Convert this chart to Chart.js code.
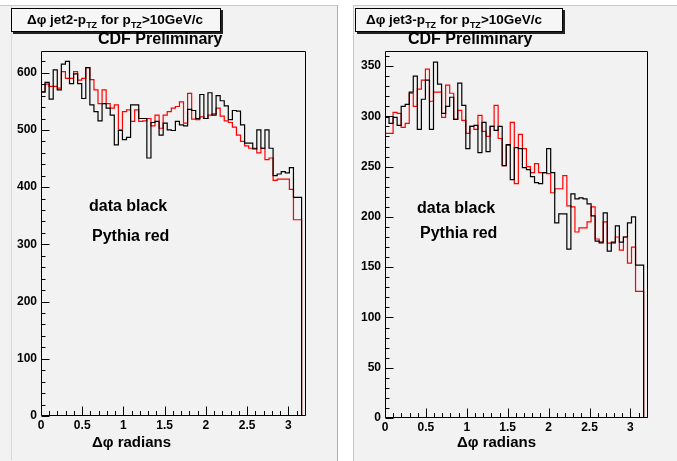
<!DOCTYPE html>
<html><head><meta charset="utf-8">
<script src="https://cdn.jsdelivr.net/npm/chart.js@4.4.1/dist/chart.umd.min.js"></script>
<style>
html,body{margin:0;padding:0;}
body{width:677px;height:461px;background:#fff;position:relative;overflow:hidden;font-family:"Liberation Sans",Arial,Helvetica,sans-serif;}
.pad{position:absolute;background:#f2f2f2;}
#padL{left:0;top:5;width:337px;height:455px;top:5px;border-top:1px solid #c8c8c8;border-right:1px solid #b0b0b0;border-bottom:1px solid #909090;}
#padR{left:353px;top:5px;width:324px;height:455px;border-top:1px solid #c8c8c8;border-left:1px solid #c8c8c8;border-bottom:1px solid #909090;}
#lineL{position:absolute;left:11px;top:6px;width:1px;height:454px;background:#d8d8d8;}
canvas{position:absolute;top:0;}
.txt{position:absolute;white-space:nowrap;font-weight:bold;color:#000;}
.tbox{position:absolute;background:#f6f6f6;border:1px solid #000;box-shadow:2px 2px 0 #222;font-weight:bold;font-size:13.5px;line-height:22px;white-space:nowrap;box-sizing:border-box;}
.tbox sub{font-size:9px;vertical-align:-4px;line-height:0;}
</style></head>
<body>
<div class="pad" id="padL"></div>
<div class="pad" id="padR"></div>
<div id="lineL"></div>
<canvas id="cL" width="338" height="461" style="left:0"></canvas>
<canvas id="cR" width="337" height="461" style="left:340px"></canvas>

<div class="tbox" style="left:11px;top:8px;width:210px;height:24px;padding-left:15px;">&Delta;&phi; jet2-p<sub>TZ</sub> for p<sub>TZ</sub>&gt;10GeV/c</div>
<div class="tbox" style="left:355px;top:8px;width:208px;height:24px;padding-left:10px;">&Delta;&phi; jet3-p<sub>TZ</sub> for p<sub>TZ</sub>&gt;10GeV/c</div>
<div class="txt" style="left:98px;top:31px;font-size:16px;line-height:16px;">CDF Preliminary</div>
<div class="txt" style="left:408px;top:31px;font-size:16px;line-height:16px;">CDF Preliminary</div>
<div class="txt" style="left:89px;top:198px;font-size:16px;line-height:16px;">data black</div>
<div class="txt" style="left:92px;top:228px;font-size:16px;line-height:16px;">Pythia red</div>
<div class="txt" style="left:417px;top:200px;font-size:16px;line-height:16px;">data black</div>
<div class="txt" style="left:420px;top:225px;font-size:16px;line-height:16px;">Pythia red</div>
<div class="txt" style="left:92px;top:434px;font-size:15px;line-height:15px;">&Delta;&phi; radians</div>
<div class="txt" style="left:457px;top:434px;font-size:15px;line-height:15px;">&Delta;&phi; radians</div>

<script>
// ---- categories: 64 bins in delta-phi (radians) ----
const nBins = 64;
const binWidth = 0.0494;
const binLeftEdges = Array.from({length: nBins}, (_, i) => i * binWidth);

// ---- x tick labels ----
const xTickLabels = ["0", "0.5", "1", "1.5", "2", "2.5", "3"];

// ---- jet2 panel (left) ----
const jet2Data = [570,566,583,554,605,570,615,620,581,598,581,555,609,544,532,516,546,538,526,474,
  499,483,487,544,544,520,520,451,513,515,491,512,500,499,515,509,507,536,534,520,
  562,520,565,526,560,551,542,518,534,533,509,477,477,467,500,468,500,468,420,423,
  427,425,434,382];
const jet2Pythia = [573,567,580,576,576,573,602,590,590,602,587,590,609,588,570,546,570,546,538,544,
  500,532,535,515,535,515,516,520,507,526,503,526,532,538,541,549,512,564,519,518,
  523,520,526,528,538,524,516,513,505,491,480,472,468,468,460,468,448,451,412,414,
  414,414,396,343];
const jet2YTicks = [0,100,200,300,400,500,600];

// ---- jet3 panel (right) ----
const jet3Data = [275,299,293,299,291,310,312,324,340,287,317,336,287,354,332,303,310,319,297,333,
  311,268,290,291,264,294,265,290,286,290,251,272,237,269,268,249,247,240,234,233,
  244,268,244,194,203,203,168,223,218,219,218,213,201,176,175,204,166,175,191,175,
  180,194,200,152];
const jet3Pythia = [280,283,283,304,303,289,293,323,310,327,336,347,315,324,324,299,331,323,297,306,
  296,283,290,287,301,285,280,290,311,278,251,271,294,233,282,268,250,244,253,244,
  244,243,224,228,228,241,211,210,185,189,189,195,210,178,174,195,174,174,180,167,
  180,154,170,126];
const jet3YTicks = [0,50,100,150,200,250,300,350];

function histPoints(vals) {
  const pts = vals.map((v, i) => ({x: binLeftEdges[i], y: v}));
  const end = nBins * binWidth;
  pts.push({x: end, y: vals[vals.length - 1]});
  pts.push({x: end, y: 0});
  return pts;
}

const rootAxes = {
  id: 'rootAxes',
  afterDatasetsDraw(chart, args, o) {
    const {ctx, chartArea: a, scales: {x, y}} = chart;
    ctx.save();
    ctx.strokeStyle = '#000';
    ctx.lineWidth = 1;
    const L = Math.round(a.left) + 0.5, R = Math.round(a.right) - 0.5;
    const T = Math.round(a.top) + 0.5, B = Math.round(a.bottom) - 0.5;
    ctx.beginPath();
    ctx.rect(L, T, R - L, B - T);
    ctx.stroke();
    ctx.beginPath();
    for (let i = 0; i <= 32; i++) {
      const v = i / 10;
      const px = Math.round(x.getPixelForValue(v)) + 0.5;
      if (px > R) break;
      const len = (i % 5 === 0) ? 9 : 4.5;
      ctx.moveTo(px, B); ctx.lineTo(px, B - len);
    }
    for (let v = 0; v <= o.yTop; v += o.yMinor) {
      const py = Math.round(y.getPixelForValue(v)) + 0.5;
      const major = Math.abs(v / o.yMajor - Math.round(v / o.yMajor)) < 1e-6;
      const len = major ? 8 : 4;
      ctx.moveTo(L, py); ctx.lineTo(L + len, py);
    }
    ctx.stroke();
    ctx.restore();
  }
};

function makeChart(id, cw, ch, area, dataVals, mcVals, yMax, yTicks, yMinor) {
  const yMajor = yTicks[1] - yTicks[0];
  return new Chart(document.getElementById(id), {
    type: 'line',
    data: {
      datasets: [
        {label: 'data', data: histPoints(dataVals), stepped: 'after', borderColor: '#000000',
         borderWidth: 1.2, pointRadius: 0, fill: false, order: 0},
        {label: 'Pythia', data: histPoints(mcVals), stepped: 'after', borderColor: '#ff0000',
         borderWidth: 1.2, pointRadius: 0, fill: false, order: 1}
      ]
    },
    options: {
      responsive: false, animation: false, events: [],
      devicePixelRatio: 1,
      layout: {padding: {left: 0, right: cw - area.right, top: area.top, bottom: 0}},
      plugins: {legend: {display: false}, tooltip: {enabled: false},
        rootAxes: {yMinor: yMinor, yMajor: yMajor, yTop: yMax}},
      scales: {
        x: {
          type: 'linear', min: 0, max: 3.215,
          afterFit: s => { s.height = ch - area.bottom; },
          afterBuildTicks: s => { s.ticks = xTickLabels.map(t => ({value: parseFloat(t)})); },
          grid: {display: false, drawTicks: false}, border: {display: false},
          ticks: {padding: 2, color: '#000', maxRotation: 0, autoSkip: false,
            font: {family: 'Liberation Sans', weight: 'bold', size: 12},
            callback: (v, i) => xTickLabels[i]}
        },
        y: {
          type: 'linear', min: 0, max: yMax,
          afterFit: s => { s.width = area.left; },
          afterBuildTicks: s => { s.ticks = yTicks.map(v => ({value: v})); },
          grid: {display: false, drawTicks: false}, border: {display: false},
          ticks: {padding: 4, color: '#000', autoSkip: false,
            font: {family: 'Liberation Sans', weight: 'bold', size: 12},
            callback: v => String(v)}
        }
      }
    },
    plugins: [rootAxes]
  });
}

makeChart('cL', 338, 461, {left: 41, right: 306, top: 51, bottom: 416}, jet2Data, jet2Pythia, 638, jet2YTicks, 20);
makeChart('cR', 337, 461, {left: 45, right: 308, top: 51, bottom: 418}, jet3Data, jet3Pythia, 365, jet3YTicks, 10);
</script>
</body></html>
